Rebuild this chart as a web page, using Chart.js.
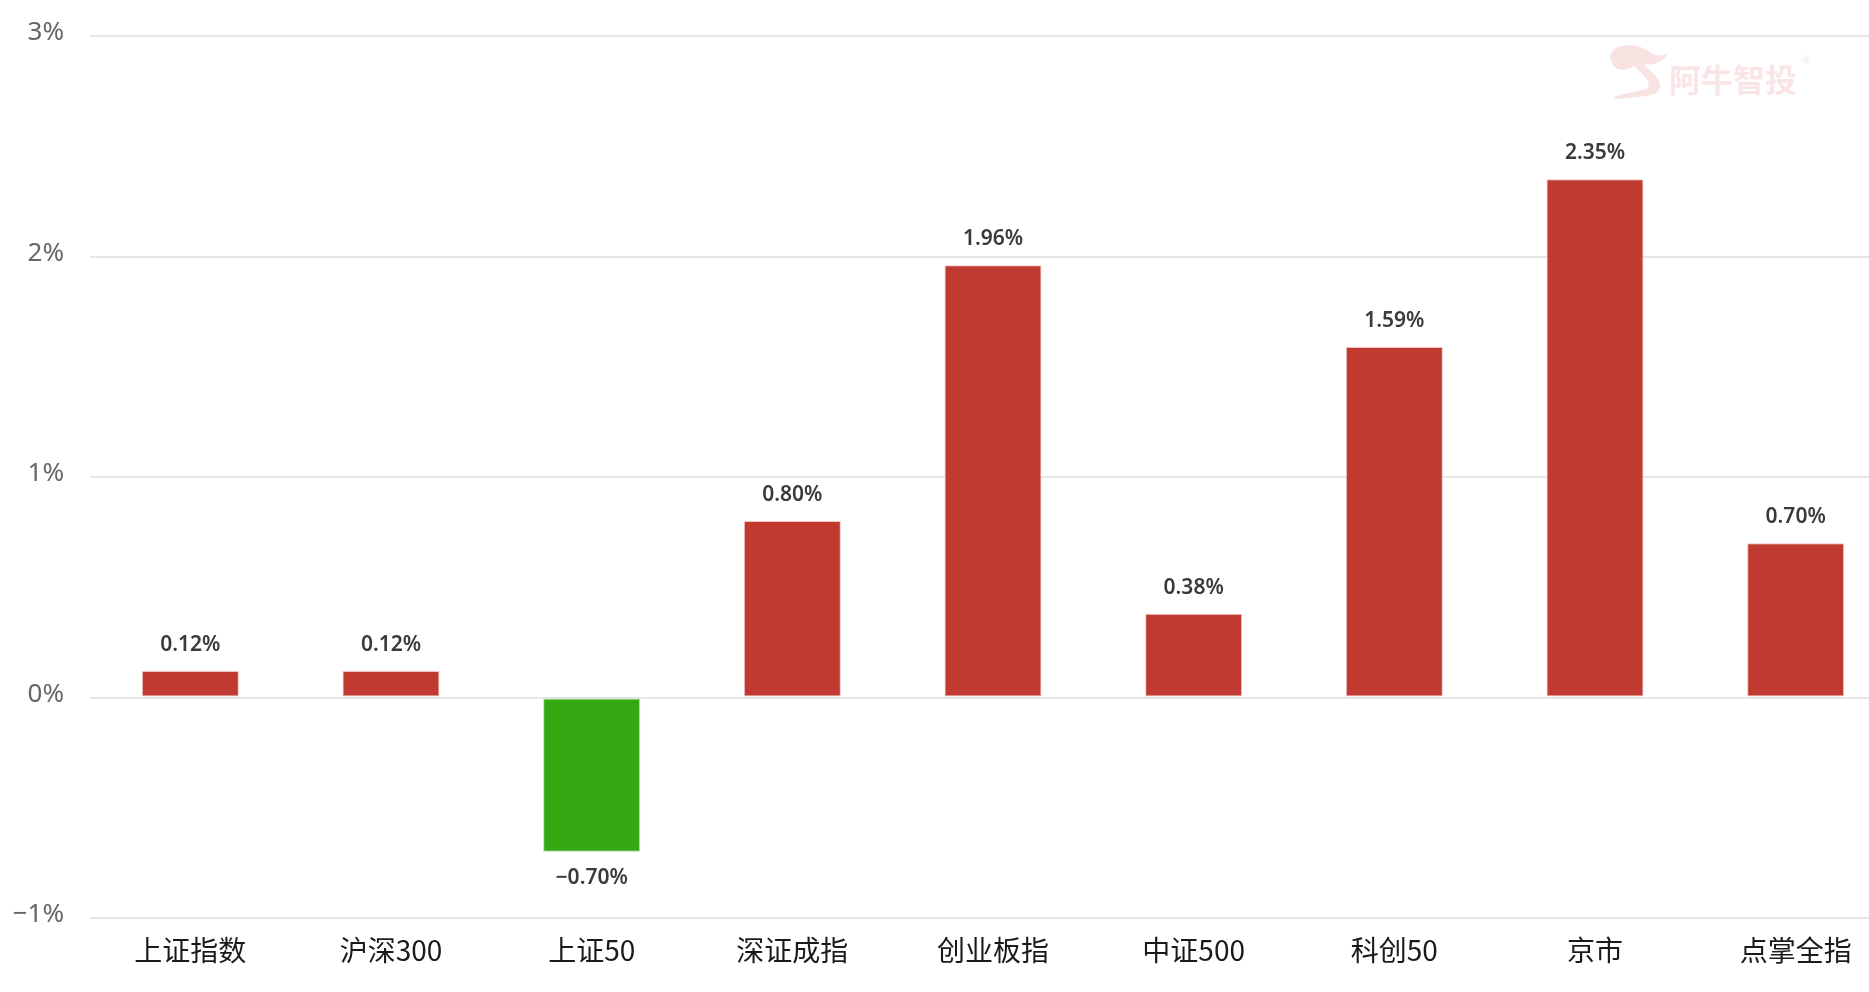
<!DOCTYPE html>
<html>
<head>
<meta charset="utf-8">
<script src="https://cdn.jsdelivr.net/npm/chart.js@4/dist/chart.umd.min.js"></script>
<style>
  html, body { margin: 0; padding: 0; background: #ffffff; overflow: hidden; }
  #wrap { position: relative; width: 1900px; height: 992px; }
</style>
</head>
<body>
<div id="wrap"><canvas id="c"></canvas></div>
<script>
// ---- data ----
const categories = ['上证指数', '沪深300', '上证50', '深证成指', '创业板指', '中证500', '科创50', '京市', '点掌全指'];
const changes = [0.12, 0.12, -0.70, 0.80, 1.96, 0.38, 1.59, 2.35, 0.70];
const yTicks = [-1, 0, 1, 2, 3];

const UP = '#c03a32';
const DOWN = '#34a914';
const fmt = v => (v < 0 ? '\u2212' : '') + Math.abs(v).toFixed(2) + '%';

const valueLabels = {
  id: 'valueLabels',
  afterDatasetsDraw(chart) {
    const ctx = chart.ctx;
    const meta = chart.getDatasetMeta(0);
    ctx.save();
    ctx.font = '600 21px "Noto Sans", "Open Sans", sans-serif';
    ctx.fillStyle = '#3a3a3a';
    ctx.textAlign = 'center';
    ctx.textBaseline = 'alphabetic';
    meta.data.forEach((bar, i) => {
      const v = changes[i];
      const p = bar.getProps(['x', 'y', 'base'], true);
      if (v >= 0) {
        ctx.fillText(fmt(v), p.x, p.y - 20);
      } else {
        ctx.fillText(fmt(v), p.x, p.y + 32);
      }
    });
    ctx.restore();
  }
};

const watermark = {
  id: 'watermark',
  afterDraw(chart) {
    const ctx = chart.ctx;
    ctx.save();
    ctx.fillStyle = 'rgba(232, 150, 150, 0.28)';
    ctx.beginPath();
    ctx.moveTo(1612, 52);
    ctx.bezierCurveTo(1618, 42, 1640, 44, 1650, 52);
    ctx.bezierCurveTo(1656, 57, 1664, 56, 1668, 52);
    ctx.bezierCurveTo(1664, 62, 1654, 66, 1644, 64);
    ctx.bezierCurveTo(1650, 72, 1662, 78, 1660, 88);
    ctx.bezierCurveTo(1656, 98, 1640, 96, 1626, 98);
    ctx.bezierCurveTo(1618, 99, 1612, 100, 1614, 97);
    ctx.bezierCurveTo(1622, 93, 1640, 92, 1648, 88);
    ctx.bezierCurveTo(1652, 80, 1640, 72, 1634, 66);
    ctx.bezierCurveTo(1628, 70, 1618, 72, 1614, 66);
    ctx.bezierCurveTo(1610, 62, 1609, 56, 1612, 52);
    ctx.closePath();
    ctx.fill();
    ctx.fillStyle = 'rgba(232, 150, 150, 0.25)';
    ctx.font = 'bold 32px "Noto Sans CJK SC", sans-serif';
    ctx.textAlign = 'left';
    ctx.textBaseline = 'alphabetic';
    ctx.fillText('阿牛智投', 1669, 92);
    ctx.font = '11px "Noto Sans", sans-serif';
    ctx.fillText('®', 1802, 64);
    ctx.restore();
  }
};

new Chart(document.getElementById('c'), {
  type: 'bar',
  data: {
    labels: categories,
    datasets: [{
      data: changes,
      backgroundColor: changes.map(v => v >= 0 ? UP : DOWN),
      borderColor: changes.map(v => v >= 0 ? 'rgba(240,190,186,0.9)' : 'rgba(170,225,150,0.9)'),
      borderWidth: 1,
      borderSkipped: false,
      barPercentage: 0.4835,
      categoryPercentage: 1.0
    }]
  },
  options: {
    responsive: true,
    maintainAspectRatio: false,
    animation: false,
    layout: { padding: { top: 36, right: 4, bottom: 0, left: 0 } },
    plugins: {
      legend: { display: false },
      tooltip: { enabled: false }
    },
    scales: {
      x: {
        grid: { display: false, drawTicks: false },
        border: { display: false },
        ticks: {
          padding: 16,
          color: '#1a1a1a',
          font: { family: '"Noto Sans CJK SC", sans-serif', size: 28 },
          maxRotation: 0,
          autoSkip: false
        },
        afterFit(scale) { scale.height = 74; scale.paddingLeft = 0; scale.paddingRight = 0; }
      },
      y: {
        min: yTicks[0],
        max: yTicks[yTicks.length - 1],
        afterBuildTicks(scale) { scale.ticks = yTicks.map(v => ({ value: v })); },
        grid: { color: '#e6e6e6', lineWidth: 2, drawTicks: false },
        border: { display: false },
        ticks: {
          padding: 26,
          labelOffset: -3,
          color: '#666666',
          font: { family: '"Noto Sans", sans-serif', size: 26 },
          callback: v => (v < 0 ? '\u2212' : '') + Math.abs(v) + '%'
        },
        afterFit(scale) { scale.width = 90; scale.paddingTop = 0; scale.paddingBottom = 0; }
      }
    }
  },
  plugins: [valueLabels, watermark]
});
</script>
</body>
</html>
